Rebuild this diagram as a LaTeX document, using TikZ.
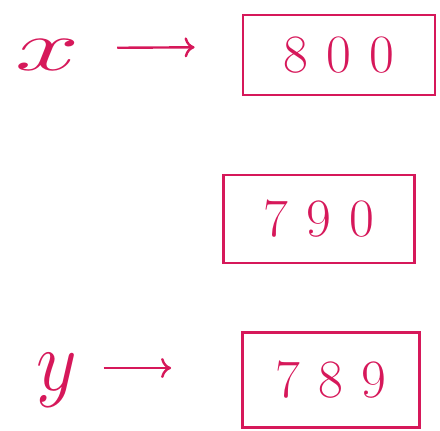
\RequirePackage{fix-cm}
\documentclass[tikz,border=0pt]{standalone}
\usetikzlibrary{arrows.meta}
\definecolor{ink}{HTML}{D6185A}
\begin{document}
\begin{tikzpicture}[x=1pt,y=-1pt,
  valbox/.style={draw=ink,line width=2.8pt,text=ink,inner sep=0pt,
    font=\fontsize{54}{56}\selectfont},
  varlbl/.style={text=ink,inner sep=0pt,font=\fontsize{72}{72}\selectfont},
  ptr/.style={draw=ink,line width=2.4pt,-{To[length=10pt,width=20pt,line width=2.4pt]}}]
\useasboundingbox (0,0) rectangle (440,431);
\node[valbox,minimum width=192pt,minimum height=80pt] (b1) at (339,55) {8\,\,0\,\,0};
\node[valbox,minimum width=191pt,minimum height=88pt] (b2) at (319,219) {7\,\,9\,\,0};
\node[valbox,minimum width=177pt,minimum height=95pt] (b3) at (331,380) {7\,\,8\,\,9\hspace{14pt}};
\node[varlbl] (x) at (48,55) {\scalebox{1.6}[1]{$x$}};
\node[varlbl] (y) at (57,380) {\scalebox{1.1}[1.2]{$y$}};
\draw[ptr,shorten <=37pt,shorten >=47pt] ([yshift=7pt]x.east) -- ([yshift=8pt]b1.west);
\draw[ptr,shorten <=26pt,shorten >=70pt] ([yshift=12pt]y.east) -- ([yshift=12pt]b3.west);
\end{tikzpicture}
\end{document}
